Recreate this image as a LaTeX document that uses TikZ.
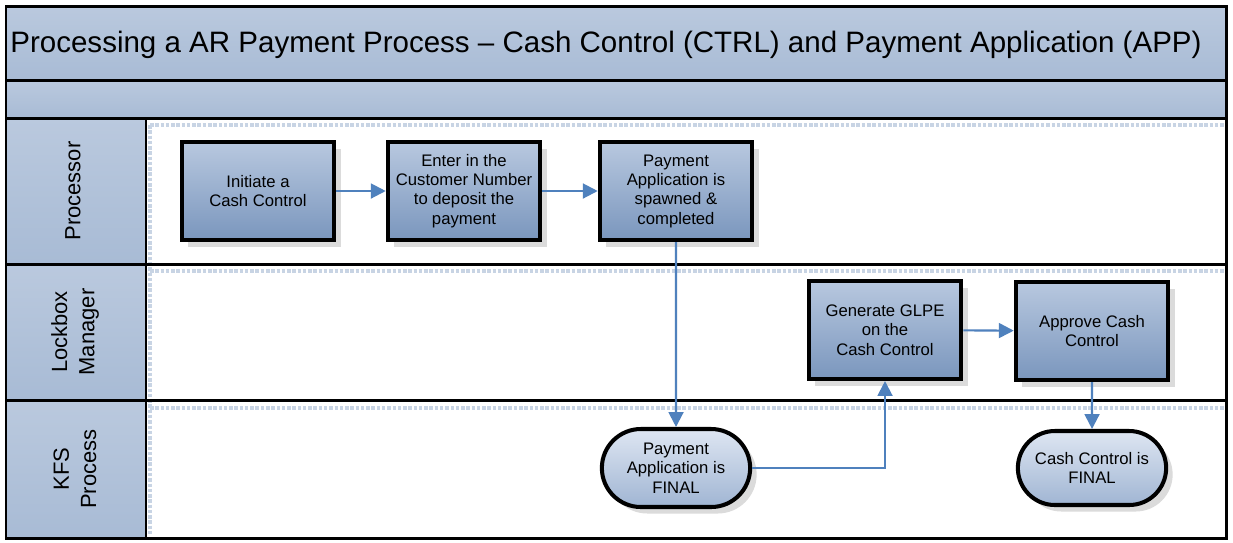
\documentclass[tikz,border=0pt]{standalone}
\usepackage{fontspec}
\setmainfont{Liberation Sans}
\usepackage{tikz}
\usetikzlibrary{arrows.meta,shadows,shapes.misc}
\definecolor{laneblue}{RGB}{186,201,222}
\definecolor{lanedark}{RGB}{168,187,213}
\definecolor{boxtop}{RGB}{184,200,223}
\definecolor{boxbot}{RGB}{122,150,189}
\definecolor{endtop}{RGB}{222,230,242}
\definecolor{endbot}{RGB}{160,181,211}
\definecolor{flowblue}{RGB}{79,129,189}
\definecolor{stipple}{RGB}{200,212,228}

\begin{document}
\begin{tikzpicture}
\tikzstyle{frame}=[draw=black,line width=1.7pt]
\tikzstyle{header}=[frame,top color=laneblue,bottom color=lanedark]
\tikzstyle{task}=[rectangle,draw=black,line width=2.3pt,top color=boxtop,bottom color=boxbot,
  minimum width=3.05cm,minimum height=1.96cm,align=center,font=\fontsize{9.5}{11}\selectfont,
  drop shadow={shadow xshift=0.13cm,shadow yshift=-0.13cm,fill=gray!28,opacity=1}]
\tikzstyle{final}=[rounded rectangle,draw=black,line width=2.3pt,top color=endtop,bottom color=endbot,
  minimum width=3.2cm,minimum height=1.56cm,align=center,font=\fontsize{9.5}{11}\selectfont,
  drop shadow={shadow xshift=0.13cm,shadow yshift=-0.13cm,fill=gray!28,opacity=1}]
\tikzstyle{lane}=[rotate=90,align=center,font=\fontsize{12.5}{15.5}\selectfont]
\tikzstyle{flow}=[draw=flowblue,line width=1.2pt,-{Triangle[length=8.5pt,width=8.5pt]}]

\useasboundingbox (0,0) rectangle (24.66,-10.84);

\fill[white] (0.12,-0.12) rectangle (24.52,-10.76);
\draw[header] (0.12,-0.12) rectangle (24.52,-1.6);
\draw[header] (0.12,-1.6) rectangle (24.52,-2.36);
\draw[header] (0.12,-2.36) rectangle (2.92,-5.28);
\draw[header] (0.12,-5.28) rectangle (2.92,-8.0);
\draw[header] (0.12,-8.0) rectangle (2.92,-10.76);

\draw[stipple,line width=2pt,densely dotted] (3.0,-2.5) -- (24.5,-2.5);
\draw[stipple,line width=2pt,densely dotted] (3.0,-5.42) -- (24.5,-5.42);
\draw[stipple,line width=2pt,densely dotted] (3.0,-8.16) -- (24.5,-8.16);
\draw[stipple,line width=2pt,densely dotted] (3.0,-2.5) -- (3.0,-10.72);

\draw[frame] (2.92,-5.28) -- (24.52,-5.28);
\draw[frame] (2.92,-8.0) -- (24.52,-8.0);
\draw[frame] (0.12,-0.12) rectangle (24.52,-10.76);

\node at (12.12,-0.9) (title) {\fontsize{16.8}{20}\selectfont Processing a AR Payment Process -- Cash Control (CTRL) and Payment Application (APP)};

\node at (1.46,-3.82) [lane] (processor) {Processor};
\node at (1.5,-6.64) [lane] (lockbox) {Lockbox\\Manager};
\node at (1.5,-9.38) [lane] (kfs) {KFS\\Process};

\node at (5.16,-3.82) [task] (initiate) {Initiate a\\Cash Control};
\node at (9.28,-3.82) [task] (enter) {Enter in the\\Customer Number\\to deposit the\\payment};
\node at (13.52,-3.82) [task] (spawned) {Payment\\Application is\\spawned \&\\completed};
\node at (17.7,-6.6) [task] (glpe) {Generate GLPE\\on the\\Cash Control};
\node at (21.84,-6.62) [task] (approve) {Approve Cash\\Control};

\node at (13.52,-9.36) [final] (pay_final) {Payment\\Application is\\FINAL};
\node at (21.84,-9.36) [final,minimum height=1.48cm] (cash_final) {Cash Control is\\FINAL};

\draw[flow] (initiate) -- (enter);
\draw[flow] (enter) -- (spawned);
\draw[flow] (spawned) -- (pay_final);
\draw[flow] (pay_final.east) -| (glpe.south);
\draw[flow] (glpe) -- (approve);
\draw[flow] (approve) -- (cash_final);

\end{tikzpicture}
\end{document}
